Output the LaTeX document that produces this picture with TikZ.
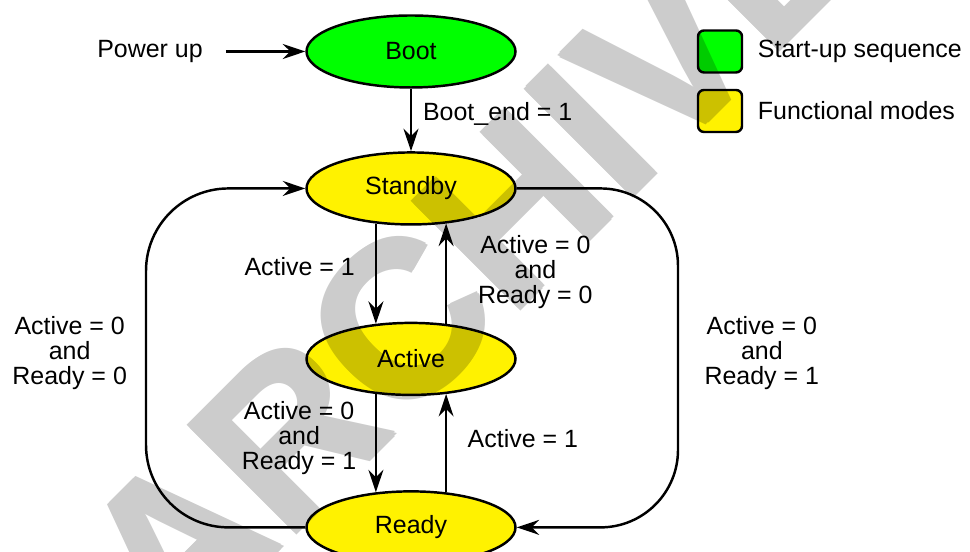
\documentclass[tikz,border=0pt]{standalone}
\usepackage{fontspec}
\setmainfont{Liberation Sans}
\usetikzlibrary{shapes.geometric, arrows.meta, positioning}

\begin{document}
\begin{tikzpicture}[
    every node/.style={font=\fontsize{14.2pt}{14.2pt}\selectfont},
    mode/.style={ellipse, draw, line width=1.4pt, minimum width=4.18cm, minimum height=1.44cm, inner sep=0pt},
    flow/.style={-{Stealth[length=0.45cm, width=0.3cm, inset=0.15cm]}, line width=1.4pt},
    cond/.style={align=center},
    keybox/.style={draw, line width=1.4pt, rounded corners=0.12cm, minimum width=0.88cm, minimum height=0.84cm, inner sep=0pt},
    stampfont/.style={rotate=45, inner sep=0pt, font=\fontsize{125pt}{125pt}\selectfont\bfseries}
]
\useasboundingbox (0,0) rectangle (19.4,11.04);

% states
\node[mode, fill=green] (boot) at (8.22,10.01) {Boot};
\node[mode, fill=yellow, below=1.25cm of boot] (standby) {Standby};
\node[mode, fill=yellow, below=1.92cm of standby] (active) {Active};
\node[mode, fill=yellow, below=1.88cm of active] (ready) {Ready};

\node (power) at (3.0,10.01) {Power up};

% legend
\node[keybox, fill=green] (keystart) at (14.4,10.01) {};
\node[keybox, fill=yellow] (keyfunc) at (14.4,8.82) {};
\node[right=0.17cm of keystart] (keystarttext) {Start-up sequence};
\node[right=0.17cm of keyfunc] (keyfunctext) {Functional modes};

\coordinate (loopL) at (2.92,3.98);
\coordinate (loopR) at (13.56,3.98);

% transitions
\draw[flow, shorten <=0.34cm] (power) -- (boot);
\draw[flow] (boot) -- node[right, pos=0.4, xshift=0.1cm] (bootlbl) {Boot\_end = 1} (standby);
\draw[flow] (standby.-135) -- node[left, pos=0.43, xshift=-0.28cm] (sa) {Active = 1} (active.135);
\draw[flow] (active.45) -- node[right, cond, pos=0.52, xshift=0.5cm] (as) {Active = 0\\and\\Ready = 0} (standby.-45);
\draw[flow] (active.-135) -- node[left, cond, pos=0.45, xshift=-0.25cm] (ar) {Active = 0\\and\\Ready = 1} (ready.135);
\draw[flow] (ready.45) -- node[right, pos=0.55, xshift=0.29cm] (ra) {Active = 1} (active.-45);

\draw[flow, rounded corners=1.65cm] (ready.west) -| (loopL) node[left, cond, xshift=-0.24cm] (rs) {Active = 0\\and\\Ready = 0} |- (standby.west);
\draw[flow, rounded corners=1.55cm] (standby.east) -| (loopR) node[right, cond, xshift=0.39cm] (sr) {Active = 0\\and\\Ready = 1} |- (ready.east);

% watermark
\begin{scope}[transparency group, opacity=0.2]
  \foreach \dx/\dy in {0/0, 0.05/0, -0.05/0, 0/0.05, 0/-0.05}
    \node[stampfont] at (9.40+\dx,6.0+\dy) {ARCHIVE};
\end{scope}
\end{tikzpicture}
\end{document}
